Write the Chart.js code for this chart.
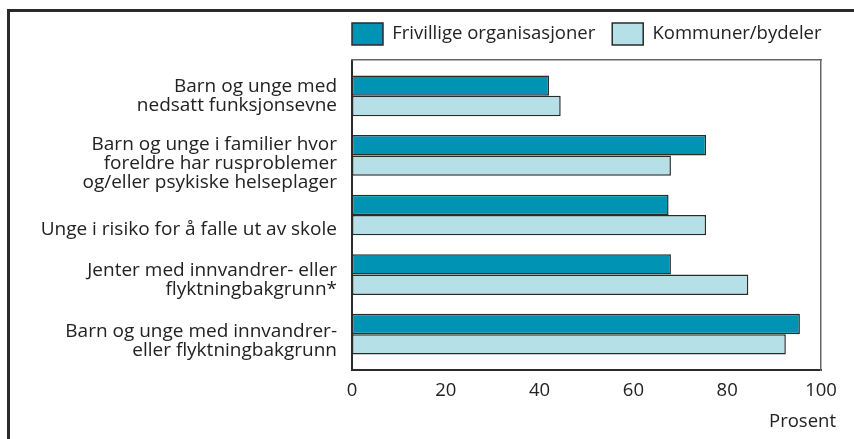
<!DOCTYPE html>
<html>
<head>
<meta charset="utf-8">
<script src="https://cdn.jsdelivr.net/npm/chart.js@4.4.0/dist/chart.umd.min.js"></script>
<style>
  body { margin: 0; background: #fff; }
  #wrap { position: relative; width: 854px; height: 439px; overflow: hidden; }
  /* ramme rundt figuren */
  #frame { position: absolute; left: 7px; top: 9px; right: 0; bottom: 0;
           border-top: 3px solid #2a2a2a; border-left: 3px solid #2a2a2a; }
  canvas { position: absolute; left: 0; top: 0; }
</style>
</head>
<body>
<div id="wrap">
  <div id="frame"></div>
  <canvas id="chart" width="854" height="439"></canvas>
</div>
<script>
// Kategorier (flere linjer per etikett)
const categories = [
  ["Barn og unge med", "nedsatt funksjonsevne"],
  ["Barn og unge i familier hvor", "foreldre har rusproblemer", "og/eller psykiske helseplager"],
  "Unge i risiko for å falle ut av skole",
  ["Jenter med innvandrer- eller", "flyktningbakgrunn*"],
  ["Barn og unge med innvandrer-", "eller flyktningbakgrunn"]
];

const seriesNames = ["Frivillige organisasjoner", "Kommuner/bydeler"];
const frivillige = [42, 75.5, 67.5, 68, 95.5];
const kommuner = [44.5, 68, 75.5, 84.5, 92.5];

const xTicks = [0, 20, 40, 60, 80, 100];
const xTitle = "Prosent";

// etikettene står litt under midten av gruppen i originalen
const labelShift = [0, 0.13, 0.25, 0.09, 0.11];

const FONT = "'Open Sans', sans-serif";
const TEXT = "#222";
const SIZE = 18.5;
const LEGEND_PAD = 17;

const extras = {
  id: "extras",
  // legenden starter der plottet starter
  afterLayout(chart) {
    chart.legend.left = chart.chartArea.left - LEGEND_PAD;
  },
  // aksetittel nede til høyre
  afterDraw(chart) {
    const { ctx } = chart;
    ctx.save();
    ctx.fillStyle = TEXT;
    ctx.font = SIZE + "px " + FONT;
    ctx.textAlign = "right";
    ctx.textBaseline = "middle";
    ctx.fillText(xTitle, 836, 422);
    ctx.restore();
  }
};

// kategori-indeks på y-aksen
const toPoints = (arr) => arr.map((v, i) => ({ x: v, y: i }));

new Chart(document.getElementById("chart"), {
  type: "bar",
  data: {
    datasets: [
      {
        label: seriesNames[0],
        data: toPoints(frivillige),
        xAxisID: "x",
        yAxisID: "y",
        backgroundColor: "#0093b4",
        borderColor: "#2b2b2b",
        borderWidth: 1.5,
        borderSkipped: false
      },
      {
        label: seriesNames[1],
        data: toPoints(kommuner),
        xAxisID: "x",
        yAxisID: "y",
        backgroundColor: "#b5e0e8",
        borderColor: "#2b2b2b",
        borderWidth: 1.5,
        borderSkipped: false
      }
    ]
  },
  options: {
    indexAxis: "y",
    responsive: false,
    animation: false,
    devicePixelRatio: 1,
    categoryPercentage: 0.813,
    barPercentage: 1,
    layout: { padding: { top: 6, right: 0, left: 0, bottom: 0 } },
    plugins: {
      legend: {
        position: "top",
        align: "start",
        labels: {
          boxWidth: 31,
          boxHeight: 22,
          padding: LEGEND_PAD,
          color: TEXT,
          font: { family: FONT, size: SIZE }
        }
      },
      tooltip: { enabled: false }
    },
    scales: {
      x: {
        min: 0,
        max: 100,
        afterBuildTicks: (s) => { s.ticks = xTicks.map((v) => ({ value: v })); },
        afterFit: (s) => { s.height = 69; },
        grid: { display: false, drawTicks: false },
        border: { display: true, color: "#2b2b2b", width: 2 },
        ticks: { color: TEXT, padding: 10, font: { family: FONT, size: SIZE } }
      },
      y: {
        type: "linear",
        reverse: true,
        offset: false,
        min: -0.6,
        max: 4.6,
        afterBuildTicks: (s) => { s.ticks = categories.map((c, i) => ({ value: i + labelShift[i] })); },
        afterFit: (s) => { s.width = 352; },
        grid: { display: false, drawTicks: false },
        border: { display: true, color: "#2b2b2b", width: 2 },
        ticks: {
          color: TEXT,
          padding: 15,
          font: { family: FONT, size: 19, lineHeight: 1.0 },
          callback: (v, i) => categories[i]
        }
      },
      // tynne grå kanter oppe og til høyre
      x2: {
        type: "linear",
        position: "top",
        min: 0,
        max: 100,
        afterFit: (s) => { s.height = 5; },
        grid: { display: false, drawTicks: false },
        border: { display: true, color: "#666", width: 1.5 },
        ticks: { display: false }
      },
      y2: {
        type: "linear",
        position: "right",
        min: 0,
        max: 1,
        afterFit: (s) => { s.width = 33; },
        grid: { display: false, drawTicks: false },
        border: { display: true, color: "#666", width: 1.5 },
        ticks: { display: false }
      }
    }
  },
  plugins: [extras]
});
</script>
</body>
</html>
